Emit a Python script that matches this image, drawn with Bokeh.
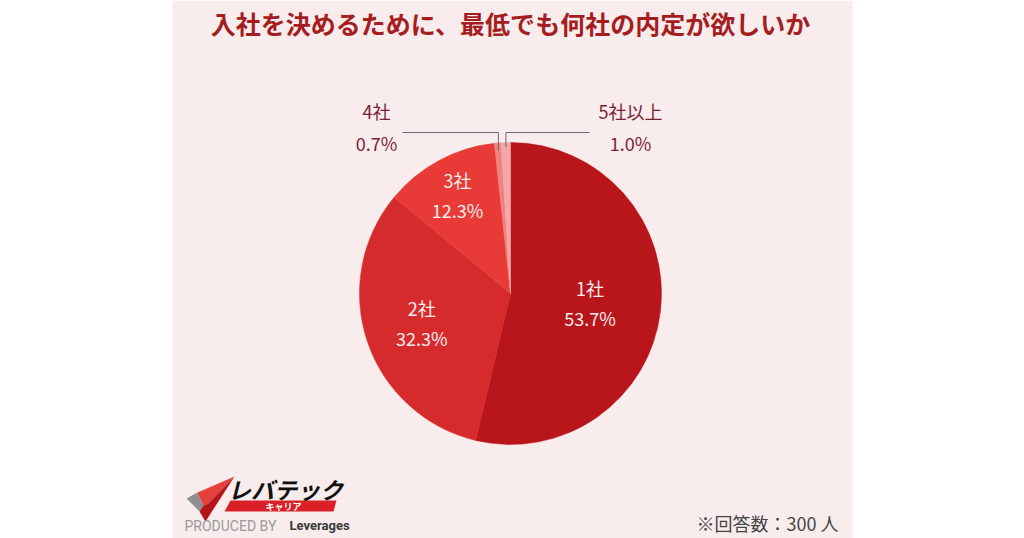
import math
from bokeh.plotting import figure
from bokeh.models import Range1d, ColumnDataSource
from bokeh.core.properties import value
from bokeh.embed import file_html
from bokeh.resources import INLINE

# ---------------- data ----------------
title = "入社を決めるために、最低でも何社の内定が欲しいか"
categories = ["1社", "2社", "3社", "4社", "5社以上"]
shares = [53.7, 32.3, 12.3, 0.7, 1.0]
pct_labels = ["53.7%", "32.3%", "12.3%", "0.7%", "1.0%"]
colors = ["#b8161b", "#d62b2d", "#e83b37", "#f08282", "#f5a8a8"]
note = "※回答数：300 人"

# ---------------- layout ----------------
W, H = 1024, 538
FONT = "Noto Sans CJK JP"
CX, CY, R = 510, 293, 151          # pie centre / radius (image coords, y down)
inner_frac = [0.53, 0.62, 0.74]     # label radius fraction for the three big slices

def Y(y):  # image y (down) -> data y (up)
    return H - y

p = figure(width=W, height=H, x_range=Range1d(0, W), y_range=Range1d(0, H),
           output_backend="svg", toolbar_location=None, min_border=0)
p.axis.visible = False
p.grid.visible = False
p.outline_line_color = None
p.background_fill_color = "white"
p.border_fill_color = "white"

# pink panel
p.quad(left=[172], right=[852], bottom=[0], top=[H], fill_color="#f9ecec", line_color=None)

# title
p.text(x=[510], y=[Y(22)], text=[title], text_font=value(FONT), text_font_size="25px",
       text_font_style="bold", text_color="#a51d1f", text_align="center", text_baseline="middle")

# pie wedges
total = sum(shares)
starts, ends, mids = [], [], []
cum = 0.0
for s in shares:
    a0 = cum / total
    cum += s
    a1 = cum / total
    starts.append(math.pi / 2 - 2 * math.pi * a0)
    ends.append(math.pi / 2 - 2 * math.pi * a1)
    mids.append(math.pi / 2 - 2 * math.pi * (a0 + a1) / 2)

src = ColumnDataSource(dict(x=[CX] * len(shares), y=[Y(CY)] * len(shares),
                            start=starts, end=ends, color=colors))
p.wedge(x="x", y="y", radius=R, start_angle="start", end_angle="end", direction="clock",
        fill_color="color", line_color="color", line_width=0.5, source=src)

# inner labels
for i in range(3):
    r = R * inner_frac[i]
    lx = CX + r * math.cos(mids[i])
    ly = Y(CY) + r * math.sin(mids[i])
    p.text(x=[lx], y=[ly + 15], text=[categories[i]], text_font=value(FONT), text_font_size="18px",
           text_color="#fbecec", text_align="center", text_baseline="middle")
    p.text(x=[lx], y=[ly - 15], text=[pct_labels[i]], text_font=value(FONT), text_font_size="18px",
           text_color="#fbecec", text_align="center", text_baseline="middle")

# outer labels with leader lines
outer = [(3, 402, 0.95, 376), (4, 589, 0.97, 630)]
for i, x_end, rf, tx in outer:
    px = CX + R * rf * math.cos(mids[i])
    py = Y(CY) + R * rf * math.sin(mids[i])
    p.line(x=[x_end, px, px], y=[Y(132), Y(132), py], line_color="#6b6b6b", line_width=1)
    p.text(x=[tx], y=[Y(110)], text=[categories[i]], text_font=value(FONT), text_font_size="18px",
           text_color="#7a1f33", text_align="center", text_baseline="middle")
    p.text(x=[tx], y=[Y(142)], text=[pct_labels[i]], text_font=value(FONT), text_font_size="18px",
           text_color="#7a1f33", text_align="center", text_baseline="middle")

# footer note
p.text(x=[838], y=[Y(522)], text=[note], text_font=value(FONT), text_font_size="18px",
       text_color="#444444", text_align="right", text_baseline="middle")

# logo
p.patch(x=[186, 197, 203, 199], y=[Y(498), Y(492), Y(505), Y(511)], fill_color="#8f8f8f", line_color=None)
p.patch(x=[197, 234, 208, 203], y=[Y(492), Y(476), Y(503), Y(505)], fill_color="#e5403e", line_color=None)
p.patch(x=[199, 203, 208, 234, 205], y=[Y(511), Y(505), Y(503), Y(476), Y(521)], fill_color="#b31519", line_color=None)
p.patch(x=[230, 336, 333, 224], y=[Y(500), Y(500), Y(511), Y(511)], fill_color="#d92127", line_color=None)
p.text(x=[285], y=[Y(488)], text=["レバテック"], text_font=value(FONT), text_font_size="23px",
       text_font_style="bold italic", text_color="#111111", text_align="center", text_baseline="middle")
p.text(x=[283], y=[Y(505.5)], text=["キャリア"], text_font=value(FONT), text_font_size="9px",
       text_font_style="bold", text_color="white", text_align="center", text_baseline="middle")
p.text(x=[184], y=[Y(525)], text=["PRODUCED BY"], text_font=value("Roboto"), text_font_size="14px",
       text_color="#9a9a9a", text_align="left", text_baseline="middle")
p.text(x=[289], y=[Y(525)], text=["Leverages"], text_font=value("Roboto"), text_font_size="13px",
       text_font_style="bold", text_color="#3a3a3a", text_align="left", text_baseline="middle")

open("out.html", "w").write(file_html(p, INLINE))
